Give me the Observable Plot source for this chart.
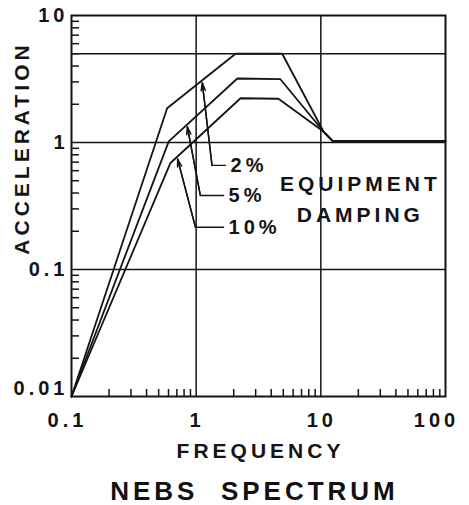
<!DOCTYPE html>
<html>
<head>
<meta charset="utf-8">
<script src="https://cdn.jsdelivr.net/npm/d3@7"></script>
<script src="https://cdn.jsdelivr.net/npm/@observablehq/plot@0.6"></script>
<style>
  body { margin: 0; background: #fff; }
  #chart { width: 469px; }
  .title {
    font-family: "Liberation Sans", Arial, sans-serif;
    font-weight: bold;
    font-size: 26px;
    line-height: 26px;
    letter-spacing: 4px;
    white-space: pre;
    text-align: center;
    padding-left: 40px;
    margin-top: 8px;
    color: #111;
  }
</style>
</head>
<body>
<div id="chart"></div>
<script>
// ---- data ----
const damping = ["2%", "5%", "10%"];

// Frequency (Hz) and acceleration (g) break points for each damping curve
const freq2  = [0.1, 0.585, 2.07, 4.9, 10.5, 12.4, 100];
const acc2   = [0.01, 1.86, 5.0, 5.0, 1.22, 1.03, 1.03];
const freq5  = [0.1, 0.603, 2.14, 4.74, 10.5, 12.4, 100];
const acc5   = [0.01, 1.02, 3.19, 3.15, 1.22, 1.03, 1.03];
const freq10 = [0.1, 0.622, 2.27, 4.57, 10.5, 12.4, 100];
const acc10  = [0.01, 0.69, 2.23, 2.21, 1.22, 1.03, 1.03];

// Leader lines for the damping labels: label end, corner, arrow tip
const leaderF2  = [1.72, 1.34, 1.12];
const leaderA2  = [0.66, 0.66, 2.95];
const leaderF5  = [1.66, 1.08, 0.85];
const leaderA5  = [0.383, 0.383, 1.33];
const leaderF10 = [1.66, 0.987, 0.71];
const leaderA10 = [0.215, 0.215, 0.74];

// Axis ticks / grid
const freqTicks = [0.1, 1, 10, 100];
const accTicks  = [0.01, 0.1, 1, 10];
const xGrid = [1, 10];
const yGrid = [0.1, 1, 5];
const xMinor = [0.2, 0.3, 0.4, 0.5, 0.6, 0.7, 0.8, 0.9, 2, 3, 4, 5, 6, 7, 8, 9, 20, 30, 40, 50, 60, 70, 80, 90];
const yMinor = [0.02, 0.03, 0.04, 0.05, 0.06, 0.07, 0.08, 0.09, 0.2, 0.3, 0.4, 0.5, 0.6, 0.7, 0.8, 0.9, 2, 3, 4, 5, 6, 7, 8, 9];

// Texts
const noteLines = ["EQUIPMENT", "DAMPING"];
const noteF = [20, 20];
const noteA = [0.466, 0.266];
const xTitle = "FREQUENCY";
const yTitle = "ACCELERATION";
const chartTitle = "NEBS  SPECTRUM";

// ---- build tables ----
const series = [[freq2, acc2], [freq5, acc5], [freq10, acc10]];
const curves = series.flatMap(([f, a], k) => f.map((x, i) => ({damping: damping[k], f: x, a: a[i]})));
const leaders = [[leaderF2, leaderA2], [leaderF5, leaderA5], [leaderF10, leaderA10]];
const leaderRows = leaders.flatMap(([f, a], k) => f.map((x, i) => ({damping: damping[k], f: x, a: a[i]})));
const arrows = leaders.map(([f, a], k) => ({damping: damping[k], f1: f[1], a1: a[1], f2: f[2], a2: a[2]}));
const labels = leaders.map(([f, a], k) => ({text: damping[k], f: f[0], a: a[0]}));
const notes = noteLines.map((t, i) => ({text: t, f: noteF[i], a: noteA[i]}));

const W = 469, H = 470, mL = 71, mR = 24, mT = 15, mB = 74;
const plotW = W - mL - mR, plotH = H - mT - mB;
const ink = "#141414";
const fmt = d => String(d);

const chart = Plot.plot({
  width: W,
  height: H,
  marginLeft: mL,
  marginRight: mR,
  marginTop: mT,
  marginBottom: mB,
  style: {
    fontFamily: "'Liberation Sans', Arial, sans-serif",
    fontWeight: "bold",
    letterSpacing: "4px",
    background: "#fff",
    color: ink
  },
  x: {type: "log", domain: [0.1, 100], axis: null},
  y: {type: "log", domain: [0.01, 10], axis: null},
  marks: [
    Plot.ruleX(xGrid, {stroke: ink, strokeWidth: 1.5}),
    Plot.ruleY(yGrid, {stroke: ink, strokeWidth: 1.5}),
    Plot.tickX(xMinor, {x: d => d, insetTop: plotH - 7, stroke: ink, strokeWidth: 1.5}),
    Plot.tickY(yMinor, {y: d => d, insetRight: plotW - 8, stroke: ink, strokeWidth: 1.5}),
    Plot.frame({stroke: ink, strokeWidth: 2}),
    Plot.line(curves, {x: "f", y: "a", z: "damping", stroke: ink, strokeWidth: 1.8}),
    Plot.line(leaderRows, {x: "f", y: "a", z: "damping", stroke: ink, strokeWidth: 1.4}),
    Plot.arrow(arrows, {x1: "f1", y1: "a1", x2: "f2", y2: "a2", stroke: ink, strokeWidth: 1.5, headLength: 8, headAngle: 30}),
    Plot.text(labels, {x: "f", y: "a", text: "text", textAnchor: "start", lineAnchor: "middle", dx: 5, fontSize: 20, fill: ink}),
    Plot.text(notes, {x: "f", y: "a", text: "text", textAnchor: "middle", lineAnchor: "middle", dx: 2, fontSize: 21, fill: ink}),
    // x tick labels
    Plot.axisX([freqTicks[0]], {tickSize: 0, tickPadding: 16, fontSize: 20, dx: -4, tickFormat: fmt, fill: ink}),
    Plot.axisX(freqTicks.slice(1, 3), {tickSize: 0, tickPadding: 16, fontSize: 20, dx: 1, tickFormat: fmt, fill: ink}),
    Plot.axisX([freqTicks[3]], {tickSize: 0, tickPadding: 16, fontSize: 20, dx: -9, tickFormat: fmt, fill: ink}),
    // y tick labels
    Plot.axisY([accTicks[0]], {tickSize: 0, tickPadding: 3, fontSize: 20, dy: -8, tickFormat: fmt, fill: ink}),
    Plot.axisY(accTicks.slice(1), {tickSize: 0, tickPadding: 3, fontSize: 20, tickFormat: fmt, fill: ink}),
    // axis titles
    Plot.text([xTitle], {frameAnchor: "bottom", text: d => d, lineAnchor: "middle", dy: 55, dx: 2, fontSize: 21, fill: ink}),
    Plot.text([yTitle], {frameAnchor: "left", text: d => d, textAnchor: "middle", rotate: -90, lineAnchor: "middle", dx: -49, dy: -58, fontSize: 21, fill: ink})
  ]
});

document.getElementById("chart").appendChild(chart);
const t = document.createElement("div");
t.className = "title";
t.textContent = chartTitle;
document.getElementById("chart").appendChild(t);
</script>
</body>
</html>
